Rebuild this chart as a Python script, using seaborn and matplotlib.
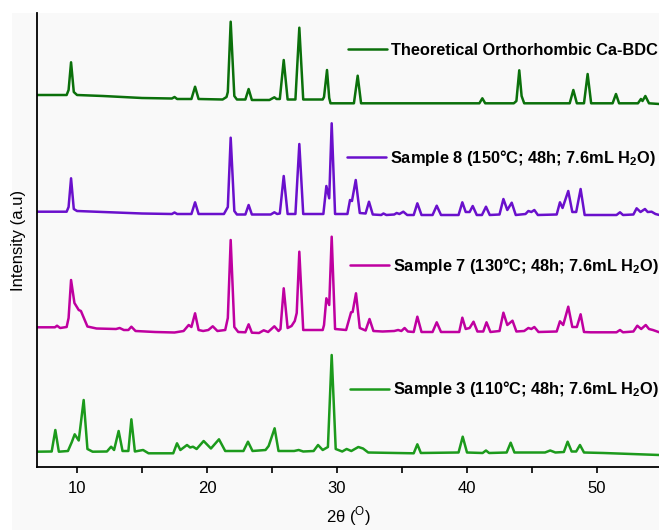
import matplotlib
matplotlib.use("Agg")
import matplotlib.pyplot as plt
import pandas as pd
import seaborn as sns
from matplotlib.patches import Rectangle
from matplotlib.ticker import MultipleLocator

# peak-traced patterns: (2theta, intensity above own baseline)
theo_2theta = [6.9, 9.2, 9.35, 9.54, 9.75, 10.0, 12, 15, 17.3, 17.5, 17.7, 18.8, 19.08, 19.35,
               21.2, 21.5, 21.6, 21.82, 22.1, 22.3, 22.95, 23.2, 23.45, 24.8, 25.18, 25.35, 25.6,
               25.9, 26.2, 26.8, 27.1, 27.4, 28.9, 29.0, 29.23, 29.4, 29.5, 31.3, 31.59, 31.85,
               40.95, 41.18, 41.4, 43.6, 43.8, 44.02, 44.2, 44.4, 47.9, 48.18, 48.45, 49.0,
               49.28, 49.55, 51.2, 51.46, 51.7, 53.15, 53.38, 53.5, 53.72, 54.0, 54.8]
theo_int = [9, 9, 14, 41.7, 12, 9, 8, 6, 5.5, 7, 5, 5, 17.3, 5,
            4.5, 7, 12, 82.3, 8, 4.5, 4.5, 15, 4, 4, 6.7, 5, 5,
            44, 4.5, 4.5, 76.3, 4.5, 4.5, 7, 34, 6, 0.7, 0.7, 28.3, 0.7,
            0.7, 5.7, 0.7, 0.7, 3, 33.7, 8, 0.7, 0.7, 14, 0.7, 0.7,
            30, 0.7, 0.7, 10, 0.7, 0.7, 5, 3, 8, 0.7, 0]

s8_2theta = [6.9, 9.2, 9.35, 9.54, 9.75, 10.0, 12, 15, 17.3, 17.5, 17.7, 18.8, 19.08, 19.35,
             21.3, 21.6, 21.82, 22.1, 22.3, 22.95, 23.2, 23.45, 24.9, 25.18, 25.4, 25.6, 25.9,
             26.2, 26.8, 27.1, 27.4, 28.95, 29.18, 29.4, 29.59, 29.85, 30.8, 31.0, 31.15,
             31.44, 31.75, 32.2, 32.46, 32.75, 33.4, 33.57, 33.8, 34.4, 34.59, 34.8, 35.1, 35.4,
             35.9, 36.18, 36.5, 37.35, 37.67, 38.0, 39.35, 39.64, 39.9, 40.2, 40.44, 40.75,
             41.15, 41.46, 41.75, 42.5, 42.8, 43.1, 43.44, 43.75, 44.5, 44.72, 44.95, 45.18, 45.45,
             46.9, 47.15, 47.35, 47.79, 48.1, 48.4, 48.74, 49.05, 51.5, 51.77, 52.0, 52.8, 53.05,
             53.35, 53.69, 53.9, 54.2, 54.5, 54.8]
s8_int = [3.3, 3.3, 8, 36.7, 6, 4, 3, 1.5, 1, 2.5, 1, 1, 12.7, 1,
          1, 8, 77.3, 4, 0.5, 0.5, 10, 0.5, 0.5, 2.7, 1, 1.5, 39,
          1, 1, 71, 1, 1, 29, 16.7, 91.7, 1, 1, 15, 14,
          35, 2, 1.5, 13.3, 0.5, 0, 1.5, 0, 0.5, 2, 1, 3.3, 0,
          0, 11.7, 0, 0, 9.3, 0, 0, 12.7, 3, 3, 9, 0,
          0, 8.3, 0, 0.5, 16, 5, 12.3, 0, 1, 4, 3, 5, 0,
          0.5, 12.7, 7, 24, 3, 3, 26, 0, 0, 2.7, 0, 0.5, 6.7,
          3, 6, 3, 3.3, 1, 0]

s7_2theta = [6.9, 8.3, 8.46, 8.7, 9.2, 9.35, 9.54, 9.8, 10.13, 10.3, 10.8, 11.5, 13.0, 13.28,
             13.6, 13.95, 14.18, 14.5, 16, 17.5, 18.2, 18.59, 18.8, 19.08, 19.35, 19.7, 20.1,
             20.44, 20.8, 21.4, 21.6, 21.82, 22.1, 22.4, 22.95, 23.2, 23.45, 24.0, 24.36, 24.7,
             25.18, 25.5, 25.65, 25.9, 26.2, 26.5, 26.75, 26.9, 27.1, 27.4, 28.9, 29.0, 29.18,
             29.4, 29.59, 29.85, 30.7, 31.08, 31.2, 31.46, 31.75, 32.2, 32.5, 32.8, 33.5, 34.4,
             34.7, 34.95, 35.2, 35.45, 35.9, 36.18, 36.5, 37.35, 37.67, 38.0, 39.4, 39.64, 39.9,
             40.2, 40.5, 40.8, 41.25, 41.5, 41.8, 42.5, 42.8, 43.1, 43.5, 43.8, 44.4, 44.72,
             44.95, 45.18, 45.5, 46.9, 47.15, 47.4, 47.79, 48.1, 48.45, 48.74, 49.0, 49.5, 51.5,
             51.77, 52.0, 52.8, 53.1, 53.4, 53.75, 54.0, 54.3, 54.8]
s7_int = [5.7, 5.7, 7.3, 5, 6, 15, 53, 30, 23, 22, 6.5, 4.5, 4, 5,
          3, 3, 6.3, 2, 1, 0.5, 2, 8, 6, 19.7, 3, 2, 3,
          6.7, 2, 3, 15, 93, 6, 1, 0.7, 8.7, 0.3, 0, 2.7, 1,
          6.7, 2, 4, 44.7, 5, 7, 12, 20, 81.3, 3, 3, 8, 34.7,
          28, 96.3, 4, 3, 20.7, 21, 39.7, 5, 2.5, 14, 2, 1.5, 2,
          3, 2, 5, 1.5, 1, 16.3, 1, 1, 10.7, 1, 1, 15.3, 4,
          5, 11.3, 1.5, 1.5, 10.7, 1, 2, 20.3, 8, 12.3, 1.5, 2, 5,
          4, 6, 1, 1.5, 11.7, 8, 26.3, 6, 6, 18.7, 1, 0.7, 0.7,
          3, 0.7, 1.5, 7.3, 4, 8, 4, 3, 0.7]

s3_2theta = [6.9, 8.05, 8.33, 8.6, 9.3, 9.6, 9.82, 10.13, 10.51, 10.8, 11.2, 12.3, 12.62, 12.85,
             13.2, 13.5, 13.95, 14.18, 14.45, 15.08, 15.5, 17.4, 17.69, 17.95, 18.46, 18.7,
             18.92, 19.2, 19.74, 20.3, 20.92, 21.4, 22.8, 23.15, 23.5, 24.5, 24.74, 25.2, 25.5,
             26.7, 27.05, 27.4, 28.2, 28.54, 28.9, 29.3, 29.59, 29.9, 30.4, 30.74, 31.1, 31.64,
             32.0, 32.4, 35.9, 36.18, 36.45, 39.35, 39.67, 40.0, 41.2, 41.46, 41.7, 43.05, 43.36,
             43.65, 46.0, 46.4, 46.8, 47.45, 47.74, 48.05, 48.4, 48.69, 49.0, 50.5, 54.8]
s3_int = [3.3, 3.5, 25, 3.3, 4, 13, 20.7, 14.5, 55, 6, 3.3, 3.5, 8.3, 5,
          24, 4, 4, 35.7, 3.5, 5, 1.7, 1.7, 11.7, 5, 10, 7.5,
          8.3, 6, 14, 6.5, 15.7, 4, 4, 13.3, 4, 5, 9, 26.7, 4,
          4, 5, 3.5, 4, 10, 5, 8, 100, 6, 3.5, 6, 4, 8,
          6.5, 2.5, 1.7, 10.7, 2, 2.5, 18.3, 2.5, 2, 4.5, 2, 2.5, 12.3,
          2.5, 2.5, 4.5, 2.5, 3, 13.3, 3.5, 3.5, 10, 2.5, 2, 0]

labels = ["Theoretical Orthorhombic Ca-BDC",
          r"Sample 8 (150°C; 48h; 7.6mL H$_\mathbf{2}$O)",
          r"Sample 7 (130°C; 48h; 7.6mL H$_\mathbf{2}$O)",
          r"Sample 3 (110°C; 48h; 7.6mL H$_\mathbf{2}$O)"]
colors = ["#0b700b", "#6a10cc", "#bf00a0", "#1c9a1c"]
offsets = [363, 252, 134, 12]
label_pos = [(0.500, 0.917), (0.498, 0.681), (0.503, 0.443), (0.503, 0.171)]

xs = [theo_2theta, s8_2theta, s7_2theta, s3_2theta]
ys = [theo_int, s8_int, s7_int, s3_int]
frames = []
for name, x, y, off in zip(labels, xs, ys, offsets):
    frames.append(pd.DataFrame({"two_theta": x, "intensity": [v + off for v in y], "pattern": name}))
df = pd.concat(frames, ignore_index=True)

sns.set_style("ticks")
plt.rcParams["font.family"] = ["Liberation Sans", "DejaVu Sans"]
plt.rcParams["mathtext.fontset"] = "custom"
plt.rcParams["mathtext.rm"] = "Liberation Sans"
plt.rcParams["mathtext.bf"] = "Liberation Sans:bold"
plt.rcParams["text.color"] = "black"
plt.rcParams["axes.labelcolor"] = "black"
plt.rcParams["xtick.color"] = "black"

bg = "#f9f9f9"
fig = plt.figure(figsize=(6.59, 5.30), dpi=100, facecolor="white")
fig.patches.append(Rectangle((12 / 659, 0), 1, 517 / 530, transform=fig.transFigure,
                             facecolor=bg, edgecolor="none", zorder=-10))
ax = fig.add_axes([37 / 659, 63 / 530, 622 / 659, 454 / 530])
ax.set_facecolor(bg)

sns.lineplot(data=df, x="two_theta", y="intensity", hue="pattern", hue_order=labels,
             palette=dict(zip(labels, colors)), estimator=None, sort=False,
             legend=False, linewidth=1.8, ax=ax)

ax.set_xlim(6.92, 54.77)
ax.set_ylim(0, 454)
ax.set_yticks([])
ax.xaxis.set_major_locator(MultipleLocator(10))
ax.xaxis.set_minor_locator(MultipleLocator(5))
ax.tick_params(axis="x", which="both", direction="out", length=4, width=1.2,
               labelsize=12, pad=6)
for side in ["top", "right"]:
    ax.spines[side].set_visible(False)
for side in ["left", "bottom"]:
    ax.spines[side].set_linewidth(1.3)
    ax.spines[side].set_color("black")

ax.set_xlabel(r"2θ ($^{\rm O}$)", fontsize=12, labelpad=6)
ax.set_ylabel("Intensity (a.u)", fontsize=12, labelpad=8)

for i, (line, lab, pos) in enumerate(zip(ax.lines, labels, label_pos)):
    leg = ax.legend([line], [lab], loc="center left", bbox_to_anchor=pos, frameon=False,
                    handlelength=2.4, handletextpad=0.25, borderpad=0, borderaxespad=0,
                    prop={"weight": "bold", "size": 11.8})
    if i < len(labels) - 1:
        ax.add_artist(leg)

fig.savefig("out.png", dpi=100, facecolor=fig.get_facecolor())
